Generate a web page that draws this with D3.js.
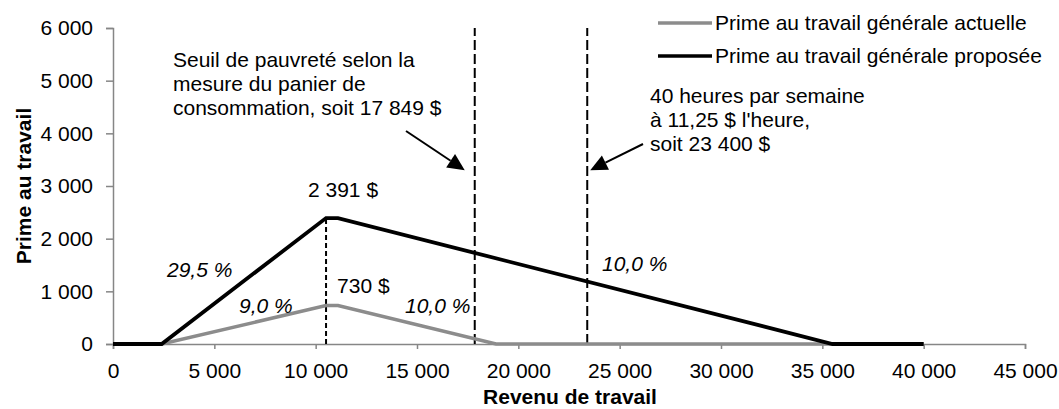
<!DOCTYPE html>
<html lang="fr">
<head>
<meta charset="utf-8">
<script src="https://cdn.jsdelivr.net/npm/d3@7"></script>
<style>
  html, body { margin: 0; padding: 0; background: #fff; }
  svg { display: block; font-family: Arial, "Liberation Sans", sans-serif; }
</style>
</head>
<body>
<svg id="chart" width="1059" height="409"></svg>
<script>
// Prime au travail : régime actuel et régime proposé
const actuelleRevenu = [0, 2400, 10512, 11100, 18900, 40000];
const actuellePrime  = [0, 0, 730, 730, 0, 0];
const proposeeRevenu = [0, 2400, 10512, 11100, 35500, 40000];
const proposeePrime  = [0, 0, 2391, 2391, 0, 0];

const seriesNames = ["Prime au travail générale actuelle", "Prime au travail générale proposée"];
const xTicks = [0, 5000, 10000, 15000, 20000, 25000, 30000, 35000, 40000, 45000];
const yTicks = [0, 1000, 2000, 3000, 4000, 5000, 6000];

// Seuils repérés par des lignes verticales
const seuilPauvrete = 17849;
const seuilSalaire = 23400;

const fr = d3.formatLocale({ decimal: ",", thousands: " ", grouping: [3], currency: ["", " $"] });
const fmtNum = fr.format(",.0f");
const fmtPct = fr.format(".1f");

const svg = d3.select("#chart");
const x = d3.scaleLinear().domain([0, 45000]).range([113, 1025]);
const y = d3.scaleLinear().domain([0, 6000]).range([344, 28]);

const FS = 21;
const axisColor = "#868686";

// Axes
const gx = svg.append("g").attr("transform", `translate(0,${y(0)})`)
  .call(d3.axisBottom(x).tickValues(xTicks).tickSize(5).tickPadding(14).tickFormat(fmtNum));
const gy = svg.append("g").attr("transform", `translate(${x(0)},0)`)
  .call(d3.axisLeft(y).tickValues(yTicks).tickSize(7).tickPadding(13).tickFormat(fmtNum));
[gx, gy].forEach(g => {
  g.select(".domain").attr("stroke", axisColor).attr("stroke-width", 1.5);
  g.selectAll(".tick line").attr("stroke", axisColor).attr("stroke-width", 1.5);
  g.selectAll(".tick text").attr("fill", "#000").style("font-size", FS + "px")
    .style("font-family", "Arial, 'Liberation Sans', sans-serif");
});

// Axis titles
svg.append("text").attr("x", 570).attr("y", 404)
  .attr("text-anchor", "middle").style("font-size", FS + "px").style("font-weight", "bold")
  .text("Revenu de travail");
svg.append("text").attr("transform", `translate(31,${(y(0) + y(6000)) / 2}) rotate(-90)`)
  .attr("text-anchor", "middle").style("font-size", FS + "px").style("font-weight", "bold")
  .text("Prime au travail");

// Vertical reference lines
svg.append("line")
  .attr("x1", x(proposeeRevenu[2])).attr("x2", x(proposeeRevenu[2]))
  .attr("y1", y(0)).attr("y2", y(proposeePrime[2]))
  .attr("stroke", "#000").attr("stroke-width", 2).attr("stroke-dasharray", "5,3");
[seuilPauvrete, seuilSalaire].forEach(v => {
  svg.append("line")
    .attr("x1", x(v)).attr("x2", x(v)).attr("y1", y(0)).attr("y2", y(6000))
    .attr("stroke", "#000").attr("stroke-width", 2).attr("stroke-dasharray", "10,4");
});

// Series lines
const line = d3.line().x(d => x(d[0])).y(d => y(d[1]));
const actuelle = d3.zip(actuelleRevenu, actuellePrime);
const proposee = d3.zip(proposeeRevenu, proposeePrime);
svg.append("path").datum(actuelle).attr("d", line)
  .attr("fill", "none").attr("stroke", "#8c8c8c").attr("stroke-width", 3.5);
svg.append("path").datum(proposee).attr("d", line)
  .attr("fill", "none").attr("stroke", "#000").attr("stroke-width", 3.8);

// Value labels
svg.append("text").attr("x", x(proposeeRevenu[2]) + 17).attr("y", y(proposeePrime[2]) - 21)
  .attr("text-anchor", "middle").style("font-size", FS + "px")
  .text(fmtNum(proposeePrime[2]) + " $");
svg.append("text").attr("x", x(actuelleRevenu[2]) + 11).attr("y", y(actuellePrime[2]) - 13)
  .style("font-size", FS + "px")
  .text(fmtNum(actuellePrime[2]) + " $");

// Rate labels (taux de croissance et de réduction)
const rates = [
  { rate: 29.5, px: 167, py: 277 },
  { rate: 9.0, px: 239, py: 313 },
  { rate: 10.0, px: 405, py: 313 },
  { rate: 10.0, px: 602, py: 271 }
];
svg.selectAll("text.rate").data(rates).join("text").attr("class", "rate")
  .attr("x", d => d.px).attr("y", d => d.py)
  .style("font-size", FS + "px").style("font-style", "italic")
  .text(d => fmtPct(d.rate) + " %");

// Annotations with arrows
const note1 = ["Seuil de pauvreté selon la", "mesure du panier de",
  "consommation, soit " + fmtNum(seuilPauvrete) + " $"];
const note2 = ["40 heures par semaine", "à 11,25 $ l'heure,", "soit " + fmtNum(seuilSalaire) + " $"];
function note(lines, px, py) {
  const t = svg.append("text").style("font-size", FS + "px");
  lines.forEach((l, i) => t.append("tspan").attr("x", px).attr("y", py + i * 24).text(l));
}
note(note1, 173, 67);
note(note2, 650, 103);

function arrow(x1, y1, x2, y2) {
  const len = 17, half = 8;
  const a = Math.atan2(y2 - y1, x2 - x1);
  const bx = x2 - len * Math.cos(a), by = y2 - len * Math.sin(a);
  svg.append("line").attr("x1", x1).attr("y1", y1).attr("x2", bx).attr("y2", by)
    .attr("stroke", "#000").attr("stroke-width", 2);
  const pts = [
    [x2, y2],
    [bx + half * Math.sin(a), by - half * Math.cos(a)],
    [bx - half * Math.sin(a), by + half * Math.cos(a)]
  ];
  svg.append("path").attr("d", "M" + pts.map(p => p.join(",")).join("L") + "Z").attr("fill", "#000");
}
arrow(406, 131, x(seuilPauvrete) - 10, y(3300));
arrow(643, 144, x(seuilSalaire) + 3, y(3300));

// Legend
const legend = svg.append("g");
[["#8c8c8c", 23], ["#000", 56]].forEach(([c, ly], i) => {
  legend.append("line").attr("x1", 658).attr("x2", 712).attr("y1", ly).attr("y2", ly)
    .attr("stroke", c).attr("stroke-width", 3.5);
  legend.append("text").attr("x", 715).attr("y", ly + 7).style("font-size", FS + "px")
    .text(seriesNames[i]);
});
</script>
</body>
</html>
